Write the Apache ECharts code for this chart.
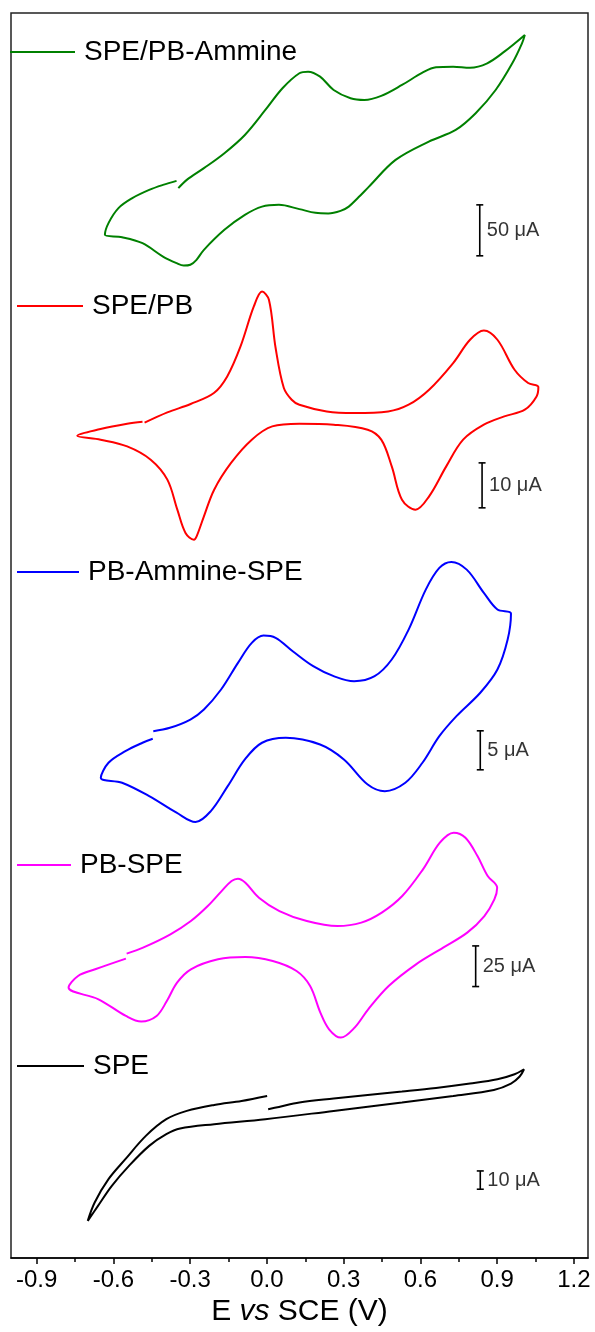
<!DOCTYPE html>
<html>
<head>
  <meta charset="utf-8">
</head>
<body style="margin: 0">
  <div id="container" style="width: 595px; height: 1332px"></div>
  <script src="https://fastly.jsdelivr.net/npm/echarts@6/dist/echarts.min.js"></script>
  <script type="text/javascript">
    // cyclic voltammograms, [E (V vs SCE), I (uA)]
    const cvAmmineOnSPE = [
      [-0.346, 11.5], [-0.313, 19.6], [-0.246, 31.1], [-0.166, 45.8], [-0.086, 63.7], [-0.006, 88.2],
      [0.061, 109.5], [0.127, 124.2], [0.161, 125.8], [0.208, 120.9], [0.261, 107.8], [0.327, 99.7],
      [0.381, 98.0], [0.447, 102.0], [0.528, 112.7], [0.608, 124.8], [0.661, 130.1], [0.728, 130.7],
      [0.794, 129.7], [0.861, 134.0], [0.928, 145.4], [1.008, 161.8],
      [0.997, 153.6], [0.959, 134.0], [0.894, 107.8], [0.816, 85.0], [0.738, 68.6], [0.633, 57.2],
      [0.503, 39.2], [0.399, 13.0], [0.358, 2.5], [0.320, -6.6], [0.288, -10.8], [0.240, -13.3],
      [0.190, -12.7], [0.127, -9.1], [0.047, -4.9], [-0.019, -6.6], [-0.086, -14.7], [-0.166, -29.4],
      [-0.246, -49.0], [-0.275, -58.8], [-0.299, -63.7], [-0.325, -64.5], [-0.353, -62.1],
      [-0.406, -55.6], [-0.486, -42.5], [-0.566, -36.6], [-0.633, -34.3],
      [-0.619, -22.8], [-0.580, -8.1], [-0.526, 1.7], [-0.460, 9.8], [-0.406, 14.7], [-0.353, 18.6]
    ];
    const cvPBOnSPE = [
      [-0.478, -0.67], [-0.389, 1.62], [-0.298, 3.49], [-0.207, 5.93], [-0.155, 9.62], [-0.103, 16.29],
      [-0.051, 25.18], [-0.019, 28.51], [0.008, 26.67], [0.034, 16.0], [0.066, 7.11], [0.097, 4.44],
      [0.127, 3.33], [0.234, 1.84], [0.341, 1.49], [0.474, 1.84], [0.554, 3.33], [0.634, 6.67],
      [0.728, 12.6], [0.794, 17.78], [0.848, 19.84], [0.901, 17.78], [0.968, 11.11], [1.021, 8.16],
      [1.061, 7.27],
      [1.054, 5.18], [1.008, 2.22], [0.928, 0.73], [0.848, -1.11], [0.767, -4.44], [0.701, -10.38],
      [0.634, -17.04], [0.581, -20.0], [0.528, -17.78], [0.488, -10.38], [0.447, -4.44], [0.394, -2.22],
      [0.261, -1.11], [0.127, -0.89], [0.021, -1.49], [-0.059, -4.44], [-0.140, -9.62], [-0.206, -15.56],
      [-0.246, -21.49], [-0.275, -26.0], [-0.285, -26.67], [-0.318, -25.18], [-0.350, -20.0],
      [-0.389, -13.33], [-0.454, -8.89], [-0.546, -5.93], [-0.650, -4.44], [-0.741, -3.56],
      [-0.650, -2.07], [-0.546, -0.89], [-0.486, -0.44]
    ];
    const cvPBAmmineSPE = [
      [-0.444, -5.35], [-0.379, -4.91], [-0.299, -3.85], [-0.246, -2.56], [-0.179, 0.0], [-0.113, 3.42],
      [-0.059, 5.99], [-0.013, 6.92], [0.034, 6.63], [0.101, 4.91], [0.181, 2.99], [0.261, 1.71],
      [0.341, 1.06], [0.421, 1.71], [0.488, 3.85], [0.554, 7.69], [0.621, 12.82], [0.674, 15.6],
      [0.721, 16.37], [0.781, 15.38], [0.848, 12.4], [0.901, 10.26], [0.954, 9.74],
      [0.941, 6.41], [0.901, 2.56], [0.834, -0.42], [0.741, -3.42], [0.674, -5.99], [0.608, -9.4],
      [0.541, -11.96], [0.461, -13.04], [0.394, -12.18], [0.301, -8.97], [0.208, -7.05], [0.074, -6.19],
      [-0.019, -6.83], [-0.086, -8.97], [-0.153, -12.4], [-0.219, -15.6], [-0.279, -17.01],
      [-0.353, -15.81], [-0.460, -13.68], [-0.566, -11.96], [-0.649, -11.32],
      [-0.619, -9.4], [-0.553, -7.91], [-0.486, -6.83], [-0.446, -6.32]
    ];
    const cvPBSPE = [
      [-0.548, -2.64], [-0.484, 1.04], [-0.377, 9.22], [-0.297, 17.39], [-0.231, 26.61], [-0.177, 35.83],
      [-0.138, 41.98], [-0.113, 43.45], [-0.084, 41.0], [-0.031, 31.78], [0.049, 23.54], [0.156, 17.39],
      [0.276, 14.32], [0.369, 16.41], [0.449, 22.56], [0.529, 32.76], [0.610, 49.17], [0.676, 65.58],
      [0.730, 71.73], [0.776, 68.65], [0.823, 57.34], [0.863, 45.05], [0.900, 37.92],
      [0.889, 30.73], [0.850, 20.47], [0.783, 10.26], [0.689, 1.04], [0.583, -9.22], [0.476, -22.56],
      [0.396, -36.88], [0.343, -48.13], [0.289, -54.3], [0.243, -49.17], [0.209, -38.91], [0.169, -22.56],
      [0.116, -13.34], [0.023, -7.19], [-0.084, -4.73], [-0.191, -6.15], [-0.297, -12.29], [-0.351, -20.47],
      [-0.391, -31.78], [-0.431, -40.99], [-0.491, -44.44], [-0.551, -40.99], [-0.658, -30.73],
      [-0.775, -23.54],
      [-0.738, -16.41], [-0.671, -12.29], [-0.551, -5.72]
    ];
    const cvBareSPE = [
      [0.005, 21.86], [0.047, 23.11], [0.127, 25.52], [0.261, 27.7], [0.394, 29.67], [0.528, 31.53],
      [0.661, 33.5], [0.794, 35.9], [0.901, 38.25], [0.968, 40.98], [1.005, 43.72],
      [0.988, 39.73], [0.954, 35.9], [0.887, 32.4], [0.728, 29.13], [0.528, 25.52], [0.261, 20.93],
      [-0.006, 16.39], [-0.206, 13.66], [-0.339, 11.31], [-0.393, 8.2], [-0.460, 1.8], [-0.539, -9.13],
      [-0.606, -20.05], [-0.660, -30.98], [-0.700, -39.18],
      [-0.673, -29.13], [-0.619, -16.39], [-0.553, -5.46], [-0.473, 7.27], [-0.393, 16.39],
      [-0.313, 20.93], [-0.206, 24.21], [-0.099, 26.39], [0.001, 29.13]
    ];

    const curveNames = ['SPE/PB-Ammine', 'SPE/PB', 'PB-Ammine-SPE', 'PB-SPE', 'SPE'];
    const curveData = [cvAmmineOnSPE, cvPBOnSPE, cvPBAmmineSPE, cvPBSPE, cvBareSPE];
    const curveColors = ['#008000', '#ff0000', '#0000ff', '#ff00ff', '#000000'];

    // scale bars: potential, lower end (uA), length (uA)
    const barPotentials = [0.832, 0.841, 0.834, 0.816, 0.834];
    const barLow = [-54.9, -19.6, -10.3, -22.9, -21.9];
    const barSpan = [50, 10, 5, 25, 10];

    const majorTicks = [-0.9, -0.6, -0.3, 0.0, 0.3, 0.6, 0.9, 1.2];
    const minorTicks = [-0.75, -0.45, -0.15, 0.15, 0.45, 0.75, 1.05];

    // vertical stacking of the panels (display units, one per pixel) and uA scale
    const panelOffset = [1059, 839, 569, 309, 109];
    const panelScale = [1.02, 4.5, 7.8, 1.627, 1.83];
    const legendTop = [38, 292, 558, 851, 1052];
    const legendLeft = [10, 17, 17, 17, 17];
    const legendLineWidth = [65, 66, 62, 54, 67];

    const font = 'Liberation Sans, Arial, sans-serif';
    const dom = document.getElementById('container');
    const myChart = echarts.init(dom, null, { renderer: 'canvas' });

    const series = [];
    curveData.forEach(function (cv, i) {
      series.push({
        name: curveNames[i],
        type: 'line',
        data: cv.map(function (p) {
          return [p[0], panelOffset[i] + p[1] * panelScale[i]];
        }),
        showSymbol: false,
        smooth: 0.35,
        lineStyle: { color: curveColors[i], width: 2 },
        itemStyle: { color: curveColors[i] },
        z: 3
      });
      const lo = panelOffset[i] + barLow[i] * panelScale[i];
      const hi = panelOffset[i] + (barLow[i] + barSpan[i]) * panelScale[i];
      series.push({
        type: 'line',
        data: [[barPotentials[i], lo], [barPotentials[i], hi]],
        symbol: 'rect',
        symbolSize: [7, 1.6],
        itemStyle: { color: '#000' },
        lineStyle: { color: '#000', width: 1.6 },
        silent: true
      });
      series.push({
        type: 'scatter',
        data: [[barPotentials[i], (lo + hi) / 2]],
        symbolSize: 0,
        label: {
          show: true,
          position: 'right',
          distance: 7,
          formatter: barSpan[i] + ' \u03bcA',
          fontSize: 20,
          fontFamily: font,
          color: '#000'
        },
        silent: true
      });
    });

    const legends = curveNames.map(function (name, i) {
      return {
        data: [name],
        left: legendLeft[i],
        top: legendTop[i],
        padding: 0,
        icon: 'rect',
        itemWidth: legendLineWidth[i],
        itemHeight: 2,
        selectedMode: false,
        textStyle: { fontSize: 28, fontFamily: font, color: '#000', padding: [0, 0, 0, 4] }
      };
    });

    const option = {
      animation: false,
      backgroundColor: '#fff',
      legend: legends,
      grid: {
        left: 11,
        right: 7,
        top: 13,
        bottom: 73,
        show: true,
        borderColor: '#222',
        borderWidth: 1.5
      },
      xAxis: [
        {
          type: 'value',
          min: -1.0,
          max: 1.255,
          position: 'bottom',
          axisLine: { show: true, lineStyle: { color: '#000', width: 1.5 } },
          axisTick: { show: true, length: 6, customValues: majorTicks, lineStyle: { color: '#000', width: 1.5 } },
          axisLabel: {
            customValues: majorTicks,
            margin: 10,
            fontSize: 24,
            fontFamily: font,
            color: '#000',
            formatter: function (v) { return v.toFixed(1); }
          },
          splitLine: { show: false },
          name: 'E {i|vs} SCE (V)',
          nameLocation: 'middle',
          nameGap: 36,
          nameTextStyle: {
            fontSize: 30,
            fontFamily: font,
            color: '#000',
            rich: { i: { fontSize: 30, fontStyle: 'italic', fontFamily: font, color: '#000' } }
          }
        },
        {
          type: 'value',
          min: -1.0,
          max: 1.255,
          position: 'bottom',
          axisLine: { show: false },
          axisTick: { show: true, length: 4, customValues: minorTicks, lineStyle: { color: '#000', width: 1.5 } },
          axisLabel: { show: false },
          splitLine: { show: false }
        }
      ],
      yAxis: {
        type: 'value',
        min: 0,
        max: 1246,
        show: false,
        splitLine: { show: false }
      },
      series: series
    };
    myChart.setOption(option);
    window.addEventListener('resize', myChart.resize);
  </script>
</body>
</html>
